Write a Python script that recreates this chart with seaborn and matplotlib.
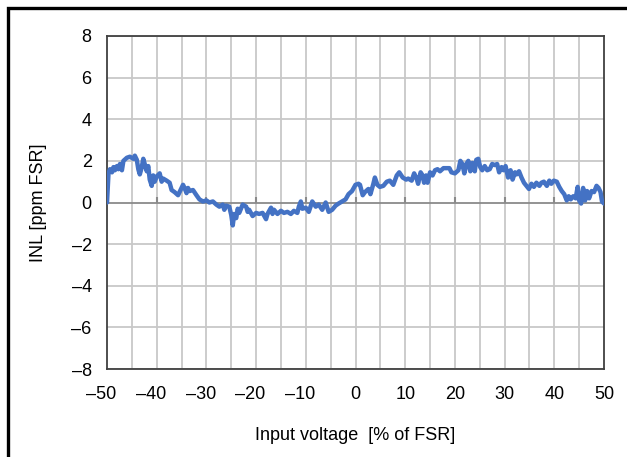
import numpy as np
import pandas as pd
import matplotlib
matplotlib.use("Agg")
import matplotlib.pyplot as plt
import matplotlib.transforms as mtransforms
from matplotlib.lines import Line2D
import seaborn as sns

# Input voltage [% of FSR] and measured INL [ppm FSR]
input_voltage = [
    -50.0, -49.7, -49.4, -49.0, -48.7, -48.4, -48.0, -47.7, -47.4, -47.0,
    -46.7, -46.0, -45.4, -44.7, -44.4, -44.0, -43.7, -43.4, -43.0, -42.7,
    -42.4, -42.0, -41.7, -41.4, -41.0, -40.7, -40.4, -40.0, -39.4, -39.0,
    -38.7, -38.0, -37.4, -37.0, -36.4, -35.7, -35.4, -34.7, -34.4, -34.0,
    -33.7, -33.4, -32.7, -32.0, -31.4, -30.7, -30.0, -29.4, -28.7, -28.0,
    -27.4, -26.7, -26.4, -26.0, -25.4, -25.0, -24.7, -24.4, -24.0, -23.7,
    -23.4, -22.7, -22.0, -21.7, -21.4, -20.7, -20.0, -19.4, -18.7, -18.0,
    -17.7, -17.0, -16.7, -16.4, -15.7, -15.0, -14.4, -13.7, -13.0, -12.4,
    -11.7, -11.4, -11.0, -10.7, -10.0, -9.4, -8.7, -8.0, -7.4, -6.7,
    -6.0, -5.4, -4.7, -4.0, -3.4, -2.7, -2.0, -1.4, -0.7, 0.0,
    0.6, 0.9, 1.45, 1.9, 2.6, 3.0, 3.6, 3.9, 4.4, 4.9,
    5.6, 6.3, 6.9, 7.6, 8.3, 8.8, 9.5, 10.2, 10.6, 11.3,
    11.8, 12.3, 12.6, 13.1, 13.5, 13.8, 14.2, 14.5, 15.0, 15.5,
    16.0, 16.5, 17.0, 17.7, 18.3, 18.9, 19.3, 20.0, 20.7, 21.1,
    21.5, 21.9, 22.3, 22.7, 23.1, 23.5, 24.0, 24.3, 24.7, 25.1,
    25.5, 26.0, 26.5, 27.0, 27.5, 28.0, 28.5, 28.9, 29.4, 29.8,
    30.2, 30.7, 31.2, 31.6, 32.1, 32.4, 32.9, 33.4, 33.9, 34.4,
    34.9, 35.4, 35.9, 36.4, 37.0, 37.4, 37.9, 38.5, 39.0, 39.4,
    39.9, 40.5, 41.0, 41.5, 42.0, 42.5, 42.9, 43.3, 43.8, 44.3,
    44.7, 45.0, 45.4, 45.8, 46.2, 46.6, 47.0, 47.5, 48.0, 48.5,
    48.9, 49.3, 49.6, 50.0,
]
inl_ppm = [
    0.0, 1.4, 1.6, 1.45, 1.7, 1.55, 1.75, 1.6, 1.85, 1.55,
    2.0, 2.15, 2.2, 2.1, 2.25, 2.05, 1.6, 1.35, 1.7, 2.1,
    1.85, 1.5, 1.75, 1.1, 0.8, 1.3, 1.0, 1.25, 1.4, 1.0,
    1.15, 1.05, 0.95, 0.6, 0.5, 0.35, 0.5, 0.85, 0.7, 0.45,
    0.7, 0.55, 0.6, 0.35, 0.15, 0.05, 0.1, 0.0, 0.05, -0.1,
    -0.2, -0.1, -0.35, -0.15, -0.2, -0.6, -1.1, -0.55, -0.75, -0.3,
    -0.5, -0.1, -0.2, -0.45, -0.35, -0.65, -0.5, -0.55, -0.5, -0.8,
    -0.55, -0.25, -0.55, -0.35, -0.55, -0.4, -0.5, -0.45, -0.55, -0.4,
    -0.5, -0.2, 0.05, -0.3, -0.25, -0.45, 0.05, -0.2, -0.1, -0.35,
    0.0, -0.45, -0.35, -0.15, -0.05, 0.05, 0.15, 0.4, 0.55, 0.85,
    0.9, 0.85, 0.35, 0.5, 0.65, 0.4, 0.9, 1.2, 0.85, 0.75,
    0.8, 1.0, 1.05, 0.85, 1.3, 1.45, 1.2, 1.1, 1.15, 1.05,
    1.4, 1.15, 0.9, 1.45, 1.3, 0.95, 1.3, 0.95, 1.45, 1.3,
    1.55, 1.6, 1.5, 1.65, 1.65, 1.65, 1.45, 1.4, 1.55, 2.0,
    1.85, 1.4, 1.85, 2.0, 1.5, 1.9, 1.5, 2.05, 2.1, 1.7,
    1.55, 1.75, 1.55, 1.6, 1.85, 1.8, 1.85, 1.45, 1.7, 1.55,
    1.75, 1.2, 1.55, 1.1, 1.45, 1.35, 1.5, 1.2, 0.95, 0.8,
    0.65, 0.9, 0.75, 0.95, 0.8, 0.95, 1.0, 0.8, 1.05, 0.9,
    1.05, 1.0, 0.75, 0.55, 0.4, 0.1, 0.3, 0.15, 0.3, 0.2,
    0.75, 0.1, -0.05, 0.7, 0.1, 0.55, 0.2, 0.55, 0.5, 0.8,
    0.7, 0.5, 0.05, -0.05,
]

x_ticks = [-50, -40, -30, -20, -10, 0, 10, 20, 30, 40, 50]
x_tick_labels = ["\u201350", "\u201340", "\u201330", "\u201320", "\u201310",
                 "0", "10", "20", "30", "40", "50"]
y_ticks = [-8, -6, -4, -2, 0, 2, 4, 6, 8]
y_tick_labels = ["\u20138", "\u20136", "\u20134", "\u20132",
                 "0", "2", "4", "6", "8"]

df = pd.DataFrame({"voltage": input_voltage, "inl": inl_ppm})

sns.set_theme(style="white")
plt.rcParams["font.family"] = ["Liberation Sans", "DejaVu Sans"]

W, H = 627, 457
fig = plt.figure(figsize=(W / 100, H / 100), dpi=100)
ax = fig.add_axes([107 / W, 1 - 369 / H, (604 - 107) / W, (369 - 36) / H])

grid_color = "#c8c8c8"
for xv in np.arange(-45, 50, 5):
    ax.axvline(xv, color=grid_color, lw=1.3, zorder=0)
for yv in y_ticks:
    if yv != 0:
        ax.axhline(yv, color=grid_color, lw=1.3, zorder=0)

# zero reference line with short upward ticks at every labelled position
zero_color = "#8a8a8a"
ax.axhline(0, color=zero_color, lw=1.3, zorder=1)
tick_mark = mtransforms.blended_transform_factory(ax.transData, ax.transAxes)
ax.vlines(x_ticks[1:-1], 0.5, 0.5 + 6 / 333, colors=zero_color, lw=1.5,
          transform=tick_mark, zorder=1)

sns.lineplot(data=df, x="voltage", y="inl", ax=ax, color="#4472C4",
             linewidth=3.2, estimator=None, sort=False, zorder=3)

ax.set_xlim(-50, 50)
ax.set_ylim(-8, 8)
ax.set_xticks(x_ticks)
ax.set_xticklabels(x_tick_labels)
ax.set_yticks(y_ticks)
ax.set_yticklabels(y_tick_labels)
ax.tick_params(axis="both", length=0, labelsize=13, colors="black")
ax.tick_params(axis="x", pad=12)
ax.tick_params(axis="y", pad=11)

# negative labels: keep the digits centred on the tick, the dash hanging left
for lab, v in zip(ax.get_xticklabels(), x_ticks):
    if v < 0:
        lab.set_transform(lab.get_transform() + mtransforms.ScaledTranslation(
            -5.5 / 100, 0, fig.dpi_scale_trans))

for side in ["left", "right", "top", "bottom"]:
    ax.spines[side].set_visible(True)
    ax.spines[side].set_color("#404040")
    ax.spines[side].set_linewidth(1.3)

ax.set_xlabel("Input voltage  [% of FSR]", fontsize=13, color="black")
ax.set_ylabel("INL [ppm FSR]", fontsize=13, color="black")
ax.xaxis.set_label_coords(0.5, -0.175)
ax.yaxis.set_label_coords(-0.12, 0.5)

# outer frame along the left and top edges
fig.add_artist(Line2D([7.5 / W, 7.5 / W, 1.01], [-0.01, 1 - 8.3 / H, 1 - 8.3 / H],
                      transform=fig.transFigure, color="black", lw=2.4,
                      solid_joinstyle="miter"))

fig.savefig("out.png", dpi=100)
